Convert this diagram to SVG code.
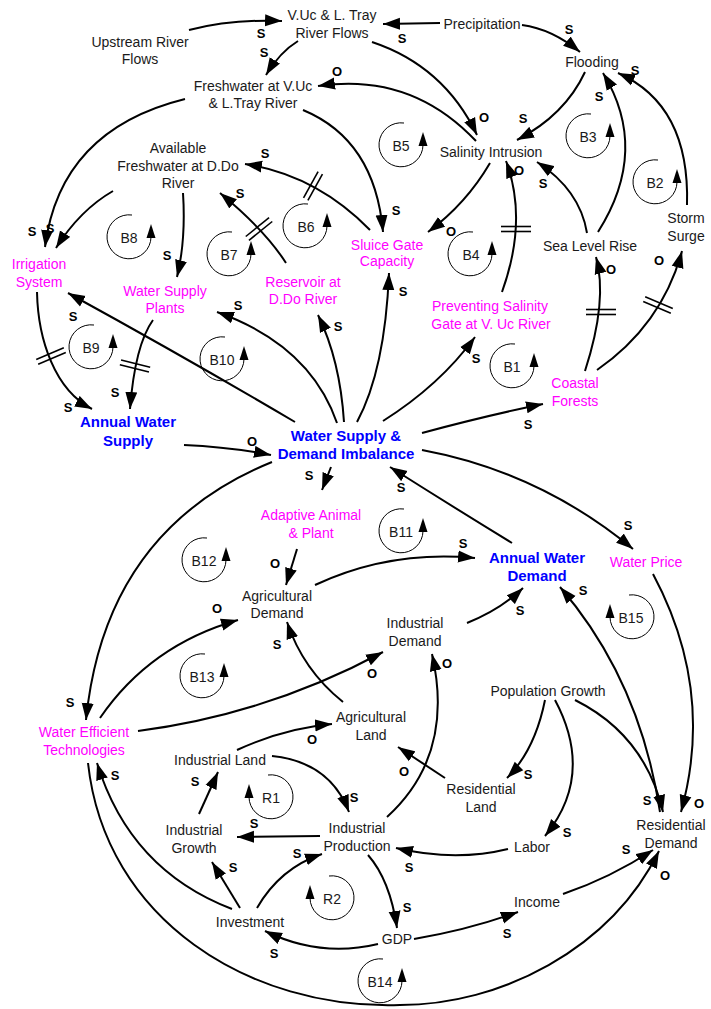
<svg xmlns="http://www.w3.org/2000/svg" xmlns:xlink="http://www.w3.org/1999/xlink" width="711" height="1009" viewBox="0 0 711 1009">
<style>
.n{font-family:"Liberation Sans",Arial,sans-serif;font-size:14px;fill:#1a1a1a;text-anchor:middle}
.m{fill:#ff00ff}
.b{font-weight:bold;fill:#0000ff;font-size:15px}
.p{font-family:"Liberation Sans",Arial,sans-serif;font-size:13px;font-weight:bold;text-anchor:middle;fill:#000}
.c path{fill:none;stroke:#000;stroke-width:2;marker-end:url(#ah)}
.lt{font-family:"Liberation Sans",Arial,sans-serif;font-size:14px;fill:#1a1a1a;text-anchor:middle}
</style>
<defs>
<marker id="ah" markerUnits="userSpaceOnUse" markerWidth="18" markerHeight="13" viewBox="0 0 18 13" refX="17" refY="6.5" orient="auto"><path d="M0,0.5 L17,6.5 L0,12.5 z" fill="#000"/></marker>
<g id="loop"><path d="M3,-22 A22,22 0 1 0 22,0" fill="none" stroke="#000" stroke-width="1"/><path d="M17.5,1 L26.5,1 L22,-13 z" fill="#000"/></g>
<g id="delay" stroke="#000" stroke-width="1.6"><line x1="-15" y1="-2.5" x2="15" y2="-2.5"/><line x1="-15" y1="2.5" x2="15" y2="2.5"/></g>
</defs>
<rect width="711" height="1009" fill="#fff"/>

<g id="connectors" class="c">
<path d="M189,30 Q232,19 282,21"/>
<path d="M440,23 L383,24"/>
<path d="M522,25 Q552,29 580,52"/>
<path d="M298,41 Q280,52 266,75"/>
<path d="M372,42 Q444,66 477,135"/>
<path d="M476,141 Q411,72 318,86"/>
<path d="M585,72 Q565,115 517,140"/>
<path d="M598,232 Q650,150 603,73"/>
<path d="M687,205 Q690,105 618,73"/>
<path d="M587,233 Q580,190 537,162"/>
<path d="M502,292 Q528,220 506,161"/>
<path d="M490,163 Q466,204 428,232"/>
<path d="M303,110 Q375,140 383,232"/>
<path d="M370,230 Q316,175 245,164"/>
<path d="M185,99 Q60,130 45,247"/>
<path d="M113,191 Q80,210 56,248"/>
<path d="M183,193 Q186,240 177,277"/>
<path d="M286,263 Q265,230 220,193"/>
<path d="M37,292 C38,340 55,390 92,409"/>
<path d="M153,320 Q135,345 130,409"/>
<path d="M184,445 Q230,447 271,455"/>
<path d="M295,422 Q190,360 68,293"/>
<path d="M337,423 Q310,345 217,312"/>
<path d="M344,422 Q340,360 318,315"/>
<path d="M357,422 Q385,370 389,273"/>
<path d="M383,421 Q440,385 475,337"/>
<path d="M422,433 Q485,416 543,404"/>
<path d="M585,371 Q608,300 596,257"/>
<path d="M597,370 Q662,325 682,251"/>
<path d="M331,467 L322,490"/>
<path d="M297,549 L286,585"/>
<path d="M512,543 Q450,505 390,467"/>
<path d="M422,450 Q540,472 633,549"/>
<path d="M272,462 Q105,530 86,720"/>
<path d="M315,585 Q390,550 475,558"/>
<path d="M467,623 Q500,610 523,588"/>
<path d="M660,812 Q640,680 560,587"/>
<path d="M575,700 Q645,735 663,812"/>
<path d="M653,574 Q715,690 681,812"/>
<path d="M545,700 Q535,750 507,778"/>
<path d="M555,700 Q595,775 545,836"/>
<path d="M445,778 L398,747"/>
<path d="M387,817 Q455,755 432,654"/>
<path d="M100,718 Q150,645 238,620"/>
<path d="M138,731 Q268,714 383,652"/>
<path d="M343,702 Q303,670 287,622"/>
<path d="M237,750 Q285,728 332,724"/>
<path d="M272,756 Q330,762 349,812"/>
<path d="M199,814 L218,772"/>
<path d="M320,836 L237,837"/>
<path d="M508,849 Q455,862 396,848"/>
<path d="M368,855 Q390,880 397,928"/>
<path d="M240,908 L212,862"/>
<path d="M257,908 Q280,868 322,854"/>
<path d="M232,909 Q130,870 97,763"/>
<path d="M378,944 Q320,958 265,931"/>
<path d="M414,939 Q468,930 518,912"/>
<path d="M563,894 Q610,878 653,850"/>
<path d="M88,763 C105,920 250,1010 400,1005 C500,1005 610,950 659,851"/>
</g>

<g id="delays">
<use xlink:href="#delay" href="#delay" transform="translate(313,186) rotate(-61)"/>
<use xlink:href="#delay" href="#delay" transform="translate(259,229) rotate(-39)"/>
<use xlink:href="#delay" href="#delay" transform="translate(51,356) rotate(-23)"/>
<use xlink:href="#delay" href="#delay" transform="translate(135,366) rotate(14)"/>
<use xlink:href="#delay" href="#delay" transform="translate(516,229)"/>
<use xlink:href="#delay" href="#delay" transform="translate(601,312)"/>
<use xlink:href="#delay" href="#delay" transform="translate(658,305) rotate(23)"/>
</g>

<g id="polarities" class="p">
<text x="261" y="38">S</text>
<text x="264" y="57">S</text>
<text x="402" y="43">S</text>
<text x="569" y="34">S</text>
<text x="337" y="76">O</text>
<text x="484" y="122">O</text>
<text x="523" y="123">S</text>
<text x="599" y="101">S</text>
<text x="635" y="75">S</text>
<text x="543" y="188">S</text>
<text x="519" y="175">O</text>
<text x="451" y="236">O</text>
<text x="396" y="215">S</text>
<text x="265" y="158">S</text>
<text x="240" y="198">S</text>
<text x="50" y="233">S</text>
<text x="32" y="236">S</text>
<text x="167" y="260">S</text>
<text x="73" y="321">S</text>
<text x="238" y="310">S</text>
<text x="338" y="331">S</text>
<text x="403" y="296">S</text>
<text x="476" y="363">S</text>
<text x="528" y="429">S</text>
<text x="611" y="274">O</text>
<text x="659" y="265">O</text>
<text x="68" y="412">S</text>
<text x="115" y="397">S</text>
<text x="252" y="446">O</text>
<text x="309" y="480">S</text>
<text x="275" y="568">O</text>
<text x="401" y="492">S</text>
<text x="628" y="530">S</text>
<text x="70" y="707">S</text>
<text x="463" y="548">S</text>
<text x="520" y="615">S</text>
<text x="583" y="595">S</text>
<text x="217" y="613">O</text>
<text x="372" y="678">O</text>
<text x="277" y="649">S</text>
<text x="447" y="668">O</text>
<text x="312" y="744">O</text>
<text x="404" y="776">O</text>
<text x="528" y="779">S</text>
<text x="567" y="837">S</text>
<text x="647" y="805">S</text>
<text x="699" y="808">O</text>
<text x="354" y="802">S</text>
<text x="195" y="786">S</text>
<text x="254" y="828">S</text>
<text x="409" y="872">S</text>
<text x="407" y="912">S</text>
<text x="233" y="872">S</text>
<text x="297" y="858">S</text>
<text x="115" y="780">S</text>
<text x="274" y="958">S</text>
<text x="507" y="938">S</text>
<text x="626" y="854">S</text>
<text x="665" y="880">O</text>
</g>

<g id="loops">
<g id="loop-B5"><use xlink:href="#loop" href="#loop" transform="translate(401,145)"/><text class="lt" x="401" y="151">B5</text></g>
<g id="loop-B3"><use xlink:href="#loop" href="#loop" transform="translate(588,136)"/><text class="lt" x="588" y="142">B3</text></g>
<g id="loop-B2"><use xlink:href="#loop" href="#loop" transform="translate(655,182)"/><text class="lt" x="655" y="188">B2</text></g>
<g id="loop-B6"><use xlink:href="#loop" href="#loop" transform="translate(305,226)"/><text class="lt" x="306" y="232">B6</text></g>
<g id="loop-B8"><use xlink:href="#loop" href="#loop" transform="translate(129,237)"/><text class="lt" x="129" y="243">B8</text></g>
<g id="loop-B7"><use xlink:href="#loop" href="#loop" transform="translate(229,254)"/><text class="lt" x="229" y="260">B7</text></g>
<g id="loop-B4"><use xlink:href="#loop" href="#loop" transform="translate(470,254)"/><text class="lt" x="471" y="260">B4</text></g>
<g id="loop-B9"><use xlink:href="#loop" href="#loop" transform="translate(91,347)"/><text class="lt" x="91" y="353">B9</text></g>
<g id="loop-B10"><use xlink:href="#loop" href="#loop" transform="translate(222,359)"/><text class="lt" x="222" y="365">B10</text></g>
<g id="loop-B1"><use xlink:href="#loop" href="#loop" transform="translate(512,366)"/><text class="lt" x="512" y="372">B1</text></g>
<g id="loop-B11"><use xlink:href="#loop" href="#loop" transform="translate(401,531)"/><text class="lt" x="401" y="537">B11</text></g>
<g id="loop-B12"><use xlink:href="#loop" href="#loop" transform="translate(204,560)"/><text class="lt" x="204" y="566">B12</text></g>
<g id="loop-B13"><use xlink:href="#loop" href="#loop" transform="translate(202,676)"/><text class="lt" x="202" y="682">B13</text></g>
<g id="loop-B15"><use xlink:href="#loop" href="#loop" transform="translate(632,617) scale(-1,1)"/><text class="lt" x="631" y="623">B15</text></g>
<g id="loop-R1"><use xlink:href="#loop" href="#loop" transform="translate(271,797) scale(-1,1)"/><text class="lt" x="271" y="803">R1</text></g>
<g id="loop-R2"><use xlink:href="#loop" href="#loop" transform="translate(332,898) scale(-1,1)"/><text class="lt" x="332" y="904">R2</text></g>
<g id="loop-B14"><use xlink:href="#loop" href="#loop" transform="translate(380,981)"/><text class="lt" x="380" y="987">B14</text></g>
</g>

<g id="nodes">
<g id="n-vuc"><text class="n" x="332" y="20">V.Uc &amp; L. Tray</text><text class="n" x="332" y="38">River Flows</text></g>
<g id="n-precip"><text class="n" x="482" y="29">Precipitation</text></g>
<g id="n-flooding"><text class="n" x="592" y="67">Flooding</text></g>
<g id="n-upstream"><text class="n" x="140" y="47">Upstream River</text><text class="n" x="140" y="64">Flows</text></g>
<g id="n-freshvuc"><text class="n" x="253" y="91">Freshwater at V.Uc</text><text class="n" x="253" y="108">&amp; L.Tray River</text></g>
<g id="n-salinity"><text class="n" x="491" y="157">Salinity Intrusion</text></g>
<g id="n-avail"><text class="n" x="178" y="153">Available</text><text class="n" x="178" y="171">Freshwater at D.Do</text><text class="n" x="178" y="188">River</text></g>
<g id="n-irrigation"><text class="n m" x="39" y="269">Irrigation</text><text class="n m" x="39" y="287">System</text></g>
<g id="n-wsp"><text class="n m" x="165" y="296">Water Supply</text><text class="n m" x="165" y="313">Plants</text></g>
<g id="n-reservoir"><text class="n m" x="303" y="287">Reservoir at</text><text class="n m" x="303" y="304">D.Do River</text></g>
<g id="n-sluice"><text class="n m" x="387" y="250">Sluice Gate</text><text class="n m" x="387" y="266">Capacity</text></g>
<g id="n-prevent"><text class="n m" x="490" y="311">Preventing Salinity</text><text class="n m" x="491" y="329">Gate at V. Uc River</text></g>
<g id="n-slr"><text class="n" x="590" y="251">Sea Level Rise</text></g>
<g id="n-storm"><text class="n" x="686" y="223">Storm</text><text class="n" x="686" y="241">Surge</text></g>
<g id="n-coastal"><text class="n m" x="575" y="388">Coastal</text><text class="n m" x="575" y="406">Forests</text></g>
<g id="n-aws"><text class="n b" x="128" y="427">Annual Water</text><text class="n b" x="128" y="446">Supply</text></g>
<g id="n-imbalance"><text class="n b" x="346" y="441">Water Supply &amp;</text><text class="n b" x="346" y="459">Demand Imbalance</text></g>
<g id="n-adaptive"><text class="n m" x="311" y="520">Adaptive Animal</text><text class="n m" x="311" y="538">&amp; Plant</text></g>
<g id="n-agridemand"><text class="n" x="277" y="601">Agricultural</text><text class="n" x="277" y="618">Demand</text></g>
<g id="n-awd"><text class="n b" x="537" y="563">Annual Water</text><text class="n b" x="537" y="581">Demand</text></g>
<g id="n-price"><text class="n m" x="646" y="567">Water Price</text></g>
<g id="n-inddemand"><text class="n" x="415" y="628">Industrial</text><text class="n" x="415" y="646">Demand</text></g>
<g id="n-pop"><text class="n" x="548" y="696">Population Growth</text></g>
<g id="n-agriland"><text class="n" x="371" y="722">Agricultural</text><text class="n" x="371" y="740">Land</text></g>
<g id="n-wet"><text class="n m" x="84" y="737">Water Efficient</text><text class="n m" x="84" y="755">Technologies</text></g>
<g id="n-indland"><text class="n" x="220" y="765">Industrial Land</text></g>
<g id="n-resland"><text class="n" x="481" y="794">Residential</text><text class="n" x="481" y="812">Land</text></g>
<g id="n-indprod"><text class="n" x="357" y="833">Industrial</text><text class="n" x="357" y="851">Production</text></g>
<g id="n-indgrowth"><text class="n" x="194" y="835">Industrial</text><text class="n" x="194" y="853">Growth</text></g>
<g id="n-labor"><text class="n" x="532" y="852">Labor</text></g>
<g id="n-resdemand"><text class="n" x="671" y="830">Residential</text><text class="n" x="671" y="848">Demand</text></g>
<g id="n-investment"><text class="n" x="250" y="927">Investment</text></g>
<g id="n-income"><text class="n" x="537" y="907">Income</text></g>
<g id="n-gdp"><text class="n" x="397" y="944">GDP</text></g>
</g>
</svg>
